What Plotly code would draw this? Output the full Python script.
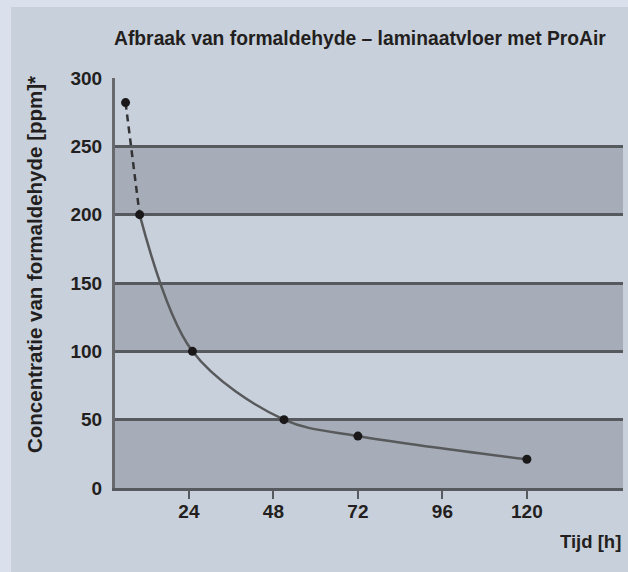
import plotly.graph_objects as go

# Data
hours = [6, 10, 25, 51, 72, 120]
ppm = [282, 200, 100, 50, 38, 21]
x_ticks = [24, 48, 72, 96, 120]
y_ticks = [0, 50, 100, 150, 200, 250, 300]
bands = [(0, 50), (100, 150), (200, 250)]

title_text = "Afbraak van formaldehyde – laminaatvloer met ProAir"
y_title = "Concentratie van formaldehyde [ppm]*"
x_title = "Tijd [h]"

OUTER = "#dae1ec"
INNER = "#c8d0dc"
BAND = "#a6adb8"
GRID = "#56595d"
TEXT = "#231f20"
FONT = "Liberation Sans, Arial, Helvetica, sans-serif"

W, H = 628, 572
ML, MR, MT, MB = 115, 5, 78, 84
PW, PH = W - ML - MR, H - MT - MB


def px_x(p):
    return (p - ML) / PW


def px_y(p):
    return (H - MB - p) / PH


fig = go.Figure()

# dashed first segment
fig.add_trace(go.Scatter(
    x=hours[:2], y=ppm[:2], mode="lines",
    line=dict(color="#333336", width=2.5, dash="7px,5px"),
    hoverinfo="skip", showlegend=False))
# smooth solid curve
fig.add_trace(go.Scatter(
    x=hours[1:], y=ppm[1:], mode="lines",
    line=dict(color="#58595b", width=2.5, shape="spline", smoothing=0.95),
    hoverinfo="skip", showlegend=False))
# points
fig.add_trace(go.Scatter(
    x=hours, y=ppm, mode="markers",
    marker=dict(color="#1b1819", size=9),
    showlegend=False))

shapes = [dict(type="rect", xref="paper", yref="paper",
               x0=px_x(11), x1=px_x(W + 5), y0=px_y(H + 5), y1=px_y(7),
               fillcolor=INNER, line=dict(width=0), layer="below")]
for lo, hi in bands:
    shapes.append(dict(type="rect", xref="paper", yref="y",
                       x0=0, x1=1, y0=lo, y1=hi,
                       fillcolor=BAND, line=dict(width=0), layer="below"))

annotations = [
    dict(text=title_text, xref="paper", yref="paper",
         x=px_x(360), y=px_y(39), xanchor="center", yanchor="middle",
         showarrow=False, font=dict(family=FONT, size=19.3, color=TEXT, weight="bold")),
    dict(text=y_title, xref="paper", yref="paper",
         x=px_x(34), y=px_y(265), xanchor="center", yanchor="middle",
         textangle=-90, showarrow=False,
         font=dict(family=FONT, size=20.5, color=TEXT, weight="bold")),
    dict(text=x_title, xref="paper", yref="paper",
         x=px_x(623), y=px_y(541), xanchor="right", yanchor="middle",
         showarrow=False, font=dict(family=FONT, size=18.5, color=TEXT, weight="bold")),
]

fig.update_layout(
    width=W, height=H,
    margin=dict(l=ML, r=MR, t=MT, b=MB),
    paper_bgcolor=OUTER, plot_bgcolor="rgba(0,0,0,0)",
    shapes=shapes, annotations=annotations,
    showlegend=False,
    font=dict(family=FONT, color=TEXT),
)

fig.update_xaxes(
    range=[3, 147.3], tickvals=x_ticks, ticktext=[str(v) for v in x_ticks],
    showgrid=False, zeroline=False,
    showline=True, linecolor=GRID, linewidth=3,
    ticks="outside", ticklen=8, tickwidth=1.5, tickcolor=GRID,
    tickfont=dict(family=FONT, size=19, color=TEXT, weight="bold"),
    ticklabelstandoff=-4,
)
fig.update_yaxes(
    range=[0, 300], tickvals=y_ticks, ticktext=[str(v) for v in y_ticks],
    showgrid=True, gridcolor=GRID, gridwidth=3, zeroline=False,
    showline=True, linecolor="#67696c", linewidth=3,
    ticks="", tickfont=dict(family=FONT, size=19, color=TEXT, weight="bold"),
    ticklabelstandoff=6,
)

fig.write_html(
    "out.html",
    config={"displayModeBar": False},
    post_script="document.body.style.margin='0';document.body.style.overflow='hidden';",
)
